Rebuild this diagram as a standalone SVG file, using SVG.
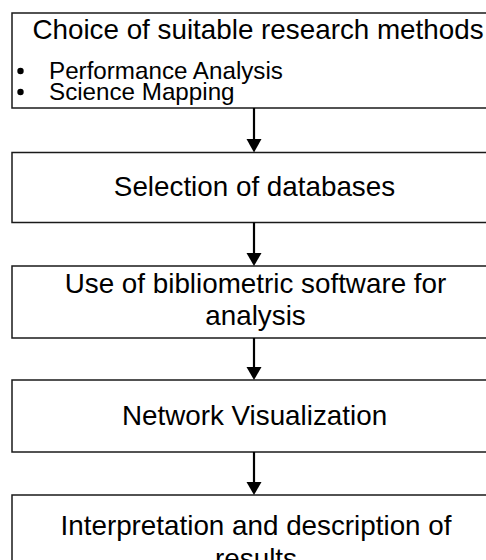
<svg xmlns="http://www.w3.org/2000/svg" width="486" height="560" viewBox="0 0 486 560">
  <style>
    .box { fill: #ffffff; stroke: #1a1a1a; stroke-width: 1.5; }
    .label { font-family: "Liberation Sans", Arial, sans-serif; font-size: 27.8px; fill: #000000; text-anchor: middle; }
    .item { font-family: "Liberation Sans", Arial, sans-serif; font-size: 24.2px; fill: #000000; }
    .dot { fill: #000000; }
    .link { stroke: #000000; stroke-width: 2.2; fill: none; }
    .head { fill: #000000; }
  </style>
  <rect width="486" height="560" fill="#ffffff"/>

  <g id="methods">
    <rect class="box" x="12" y="13" width="484" height="95"/>
    <text class="label" x="258" y="39">Choice of suitable research methods</text>
    <circle class="dot" cx="20.5" cy="71" r="3.2"/>
    <circle class="dot" cx="20.5" cy="92" r="3.2"/>
    <text class="item" x="49" y="79">Performance Analysis</text>
    <text class="item" x="49" y="100">Science Mapping</text>
  </g>

  <g id="databases">
    <rect class="box" x="12" y="152.5" width="484" height="70"/>
    <text class="label" x="254.5" y="196">Selection of databases</text>
  </g>

  <g id="software">
    <rect class="box" x="12" y="266" width="484" height="72"/>
    <text class="label" x="255.5" y="293">Use of bibliometric software for</text>
    <text class="label" x="255.5" y="325">analysis</text>
  </g>

  <g id="visualization">
    <rect class="box" x="12" y="380" width="484" height="72"/>
    <text class="label" x="254.5" y="425">Network Visualization</text>
  </g>

  <g id="interpretation">
    <rect class="box" x="12" y="495" width="484" height="80"/>
    <text class="label" x="256" y="535">Interpretation and description of</text>
    <text class="label" x="256" y="568">results</text>
  </g>

  <g id="connectors">
    <line class="link" x1="254" y1="108" x2="254" y2="140"/>
    <polygon class="head" points="246.5,139 261.5,139 254,152.5"/>
    <line class="link" x1="254" y1="222.5" x2="254" y2="254"/>
    <polygon class="head" points="246.5,253 261.5,253 254,266"/>
    <line class="link" x1="254" y1="338" x2="254" y2="368"/>
    <polygon class="head" points="246.5,367 261.5,367 254,380"/>
    <line class="link" x1="254" y1="452" x2="254" y2="483"/>
    <polygon class="head" points="246.5,482 261.5,482 254,495"/>
  </g>
</svg>
